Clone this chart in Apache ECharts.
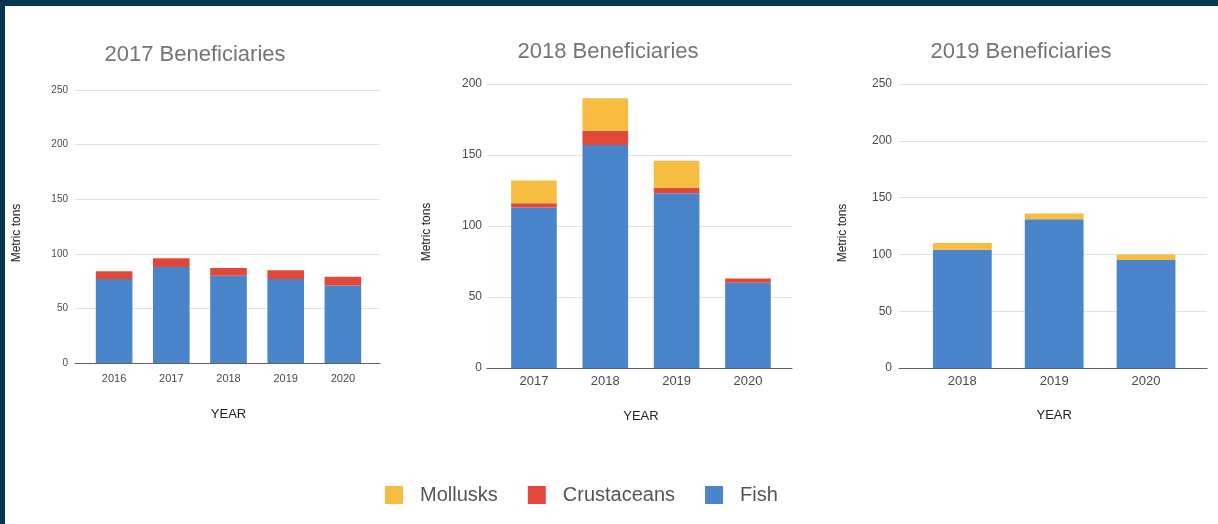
<!DOCTYPE html>
<html>
<head>
<meta charset="utf-8">
<title>Beneficiaries by year</title>
<script src="https://cdn.jsdelivr.net/npm/echarts@6/dist/echarts.min.js"></script>
<style>
  html, body { margin: 0; padding: 0; background: #ffffff; }
  #chart { width: 1218px; height: 524px; }
</style>
</head>
<body>
<div id="chart"></div>
<script>
// ---- data ----
const seriesNames = ['Mollusks', 'Crustaceans', 'Fish'];

const years2017 = ['2016', '2017', '2018', '2019', '2020'];
const fish2017 = [77, 88, 80, 77, 71];
const crustaceans2017 = [7, 8, 7, 8, 8];
const mollusks2017 = [0, 0, 0, 0, 0];

const years2018 = ['2017', '2018', '2019', '2020'];
const fish2018 = [113, 157, 123, 60];
const crustaceans2018 = [3, 10, 4, 3];
const mollusks2018 = [16, 23, 19, 0];

const years2019 = ['2018', '2019', '2020'];
const fish2019 = [104, 131, 95];
const crustaceans2019 = [0, 0, 0];
const mollusks2019 = [6, 5, 5];

const titles = ['2017 Beneficiaries', '2018 Beneficiaries', '2019 Beneficiaries'];
const axisMax = [250, 200, 250];
const tickStep = 50;

// ---- styling ----
const colors = { Mollusks: '#f6bd41', Crustaceans: '#e2483a', Fish: '#4a84ca' };
const FONT = '"Liberation Sans", Arial, sans-serif';

// each panel: outer plot area (gridlines + baseline) and inner band area for the bars
const panels = [
  { years: years2017, fish: fish2017, crust: crustaceans2017, moll: mollusks2017,
    left: 75, top: 90, width: 305, height: 273, dataLeft: 85.5, dataWidth: 286,
    titleX: 195, titleTop: 44, yNameX: 17, yNameY: 233,
    yLabelSize: 10, yLabelMargin: 7, xLabelSize: 11, xLabelMargin: 10, nameGap: 45 },
  { years: years2018, fish: fish2018, crust: crustaceans2018, moll: mollusks2018,
    left: 487, top: 84, width: 305, height: 284, dataLeft: 498.3, dataWidth: 285.3,
    titleX: 608, titleTop: 41, yNameX: 427, yNameY: 232,
    yLabelSize: 12, yLabelMargin: 5, xLabelSize: 13, xLabelMargin: 7, nameGap: 42 },
  { years: years2019, fish: fish2019, crust: crustaceans2019, moll: mollusks2019,
    left: 899, top: 84, width: 308, height: 284, dataLeft: 916.4, dataWidth: 275.6,
    titleX: 1021, titleTop: 41, yNameX: 843, yNameY: 233,
    yLabelSize: 12, yLabelMargin: 7, xLabelSize: 13, xLabelMargin: 7, nameGap: 41 }
];

const grid = [], xAxis = [], yAxis = [], series = [], title = [];
const graphic = [
  { type: 'rect', shape: { x: 0, y: 0, width: 1218, height: 6 }, style: { fill: '#073650' }, z: 100 },
  { type: 'rect', shape: { x: 0, y: 0, width: 5, height: 524 }, style: { fill: '#073650' }, z: 100 }
];

panels.forEach((p, i) => {
  const frame = 2 * i, band = 2 * i + 1;

  grid.push({ left: p.left, top: p.top, width: p.width, height: p.height });
  grid.push({ left: p.dataLeft, top: p.top, width: p.dataWidth, height: p.height });

  title.push({
    text: titles[i], left: p.titleX, top: p.titleTop, textAlign: 'center', padding: 0,
    textStyle: { fontFamily: FONT, fontSize: 22, fontWeight: 'normal', color: '#757575' }
  });

  // frame: baseline only
  xAxis.push({
    gridIndex: frame, type: 'value', min: 0, max: 1,
    axisLine: { show: true, onZero: false, lineStyle: { color: '#616161', width: 1 } },
    axisTick: { show: false }, axisLabel: { show: false }, splitLine: { show: false }
  });
  // band: category labels and axis title
  xAxis.push({
    gridIndex: band, type: 'category', data: p.years,
    axisLine: { show: false }, axisTick: { show: false },
    axisLabel: { margin: p.xLabelMargin, fontFamily: FONT, fontSize: p.xLabelSize, color: '#4a4a4a' },
    name: 'YEAR', nameLocation: 'middle', nameGap: p.nameGap,
    nameTextStyle: { fontFamily: FONT, fontSize: 13, color: '#222222' }
  });

  yAxis.push({
    gridIndex: frame, type: 'value', min: 0, max: axisMax[i], interval: tickStep,
    axisLine: { show: false }, axisTick: { show: false },
    axisLabel: { margin: p.yLabelMargin, fontFamily: FONT, fontSize: p.yLabelSize, color: '#4a4a4a' },
    splitLine: { show: true, lineStyle: { color: '#e2e2e2', width: 1 } }
  });
  yAxis.push({ gridIndex: band, type: 'value', min: 0, max: axisMax[i], show: false });

  const stacks = [['Fish', p.fish], ['Crustaceans', p.crust], ['Mollusks', p.moll]];
  stacks.forEach(([name, values]) => {
    series.push({
      name, type: 'bar', stack: 'panel' + i,
      xAxisIndex: band, yAxisIndex: band,
      barWidth: '64%', data: values,
      itemStyle: { color: colors[name] },
      emphasis: { disabled: true }
    });
  });

  graphic.push({
    type: 'text', x: p.yNameX, y: p.yNameY, rotation: Math.PI / 2,
    style: { text: 'Metric tons', fontFamily: FONT, fontSize: 12, fill: '#222222',
             textAlign: 'center', textVerticalAlign: 'middle', align: 'center', verticalAlign: 'middle' }
  });
});

const chart = echarts.init(document.getElementById('chart'), null, { renderer: 'canvas' });
chart.setOption({
  animation: false,
  backgroundColor: '#ffffff',
  color: [colors.Mollusks, colors.Crustaceans, colors.Fish],
  title, grid, xAxis, yAxis, series, graphic,
  legend: {
    data: seriesNames, left: 385, top: 485, padding: 0,
    icon: 'rect', itemWidth: 18, itemHeight: 18, itemGap: 30,
    selectedMode: false,
    textStyle: { fontFamily: FONT, fontSize: 20, color: '#555555', padding: [0, 0, 0, 12] }
  }
});
</script>
</body>
</html>
